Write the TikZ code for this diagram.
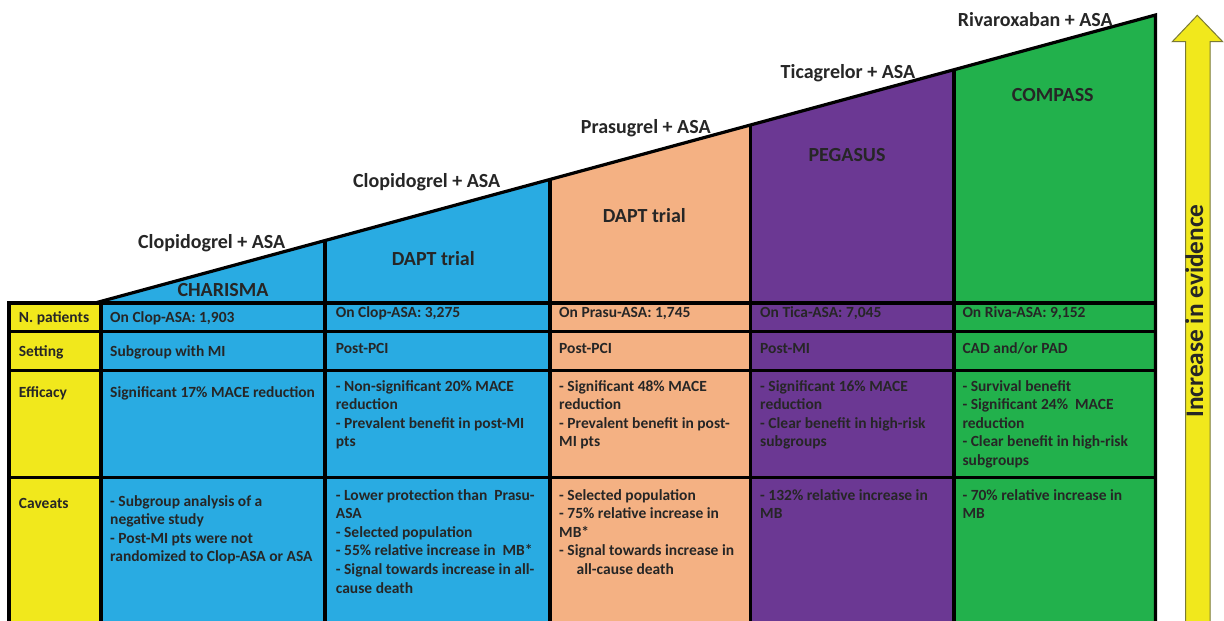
\documentclass[tikz,border=0pt]{standalone}
\usepackage{fontspec}
\setmainfont{Carlito}
\definecolor{clopblue}{HTML}{29ABE2}
\definecolor{prasupeach}{HTML}{F4B183}
\definecolor{ticapurple}{HTML}{6B3893}
\definecolor{rivagreen}{HTML}{22B14C}
\definecolor{labelyellow}{HTML}{F1E81C}
\definecolor{arrowedge}{HTML}{7A7A35}
\definecolor{inkgrey}{HTML}{262626}
\tikzset{
 cell/.style={anchor=north west,inner sep=0pt,align=left,text=inkgrey,
   font=\bfseries\fontsize{15.5}{18.6}\selectfont,execute at begin node=\strut},
 drug/.style={anchor=base,inner sep=0pt,text=inkgrey,font=\bfseries\fontsize{20}{24}\selectfont},
 trial/.style={drug},
 grid/.style={line width=3.2pt},
}
\begin{document}
\begin{tikzpicture}[x=1pt,y=-1pt,line join=miter]
 \clip (0,0) rectangle (1224,621);
 \fill[white] (0,0) rectangle (1224,621);
%% coloured columns under the rising line
 \fill[clopblue] (95,303) -- (325,239.8) -- (325,625) -- (95,625) -- cycle;
 \fill[clopblue] (325,239.8) -- (550,178.9) -- (550,625) -- (325,625) -- cycle;
 \fill[prasupeach] (550,178.9) -- (750.5,124.6) -- (750.5,625) -- (550,625) -- cycle;
 \fill[ticapurple] (750.5,124.6) -- (954,69.6) -- (954,625) -- (750.5,625) -- cycle;
 \fill[rivagreen] (954,69.6) -- (1155.5,15) -- (1155.5,625) -- (954,625) -- cycle;
 \fill[labelyellow] (9,303) rectangle (101,625);
%% grid
 \draw[grid] (9,625) -- (9,303) -- (1155.5,303);
 \draw[grid] (95,303) -- (1155.5,15) -- (1155.5,625);
 \draw[grid] (9,331.7) -- (1155.5,331.7);
 \draw[grid] (9,370.3) -- (1155.5,370.3);
 \draw[grid] (9,477.7) -- (1155.5,477.7);
 \draw[grid] (101,303) -- (101,625);
 \draw[grid] (325,239.8) -- (325,625);
 \draw[grid] (550,178.9) -- (550,625);
 \draw[grid] (750.5,124.6) -- (750.5,625);
 \draw[grid] (954,69.6) -- (954,625);
%% arrow on the right
 \filldraw[fill=labelyellow,draw=arrowedge,line width=1pt]
   (1185.7,625) -- (1185.7,41.7) -- (1172.3,41.7) -- (1197.3,15.3)
   -- (1222.7,41.7) -- (1210,41.7) -- (1210,625) -- cycle;
 \node (evidence) at (1203,311) [anchor=base,rotate=90,inner sep=0pt,text=inkgrey,
   font=\bfseries\fontsize{25.3}{30}\selectfont] {Increase in evidence};
%% drugs and trials
 \node (drug_1) at (211.7,248) [drug] {Clopidogrel + ASA};
 \node (drug_2) at (426.7,187) [drug] {Clopidogrel + ASA};
 \node (drug_3) at (645.8,133) [drug] {Prasugrel + ASA};
 \node (drug_4) at (848,78) [drug] {Ticagrelor + ASA};
 \node (drug_5) at (1035.3,26.7) [drug] {Rivaroxaban + ASA};
 \node (trial_1) at (223,296) [trial] {CHARISMA};
 \node (trial_2) at (433.3,265) [trial] {DAPT trial};
 \node (trial_3) at (644.3,222.7) [trial] {DAPT trial};
 \node (trial_4) at (847,161.7) [trial] {PEGASUS};
 \node (trial_5) at (1052.8,101.7) [trial] {COMPASS};
%% row labels
 \node (lbl_npat) at (18.7,309) [cell] {N. patients};
 \node (lbl_setting) at (18.7,343.7) [cell] {Setting};
 \node (lbl_eff) at (18.7,384) [cell] {Efficacy};
 \node (lbl_cav) at (18.7,495) [cell] {Caveats};
%% CHARISMA
 \node (npat_1) at (110,309) [cell] {On Clop-ASA: 1,903};
 \node (setting_1) at (110,343.7) [cell] {Subgroup with MI};
 \node (eff_1) at (110,384) [cell] {Significant 17\% MACE reduction};
 \node (cav_1) at (110,495) [cell] {- Subgroup analysis of a\\negative study\\- Post-MI pts were not\\randomized to Clop-ASA or ASA};
%% DAPT, clopidogrel
 \node (npat_2) at (335.7,304.5) [cell] {On Clop-ASA: 3,275};
 \node (setting_2) at (335.7,340) [cell] {Post-PCI};
 \node (eff_2) at (335.7,380) [cell] {- Non-significant 20\% MACE\\reduction\\- Prevalent benefit in post-MI\\pts};
 \node (cav_2) at (335.7,489) [cell] {- Lower protection than~~Prasu-\\ASA\\- Selected population\\- 55\% relative increase in~~MB*\\- Signal towards increase in all-\\cause death};
%% DAPT, prasugrel
 \node (npat_3) at (559,304.5) [cell] {On Prasu-ASA: 1,745};
 \node (setting_3) at (559,340) [cell] {Post-PCI};
 \node (eff_3) at (559,380) [cell] {- Significant 48\% MACE\\reduction\\- Prevalent benefit in post-\\MI pts};
 \node (cav_3) at (559,489) [cell] {- Selected population\\- 75\% relative increase in\\MB*\\- Signal towards increase in\\\hspace*{17.5pt}all-cause death};
%% PEGASUS
 \node (npat_4) at (760,304.5) [cell] {On Tica-ASA: 7,045};
 \node (setting_4) at (760,340) [cell] {Post-MI};
 \node (eff_4) at (760,380) [cell] {- Significant 16\% MACE\\reduction\\- Clear benefit in high-risk\\subgroups};
 \node (cav_4) at (760,489) [cell] {- 132\% relative increase in\\MB};
%% COMPASS
 \node (npat_5) at (962.3,304.5) [cell] {On Riva-ASA: 9,152};
 \node (setting_5) at (962.3,340) [cell] {CAD and/or PAD};
 \node (eff_5) at (962.3,380) [cell] {- Survival benefit\\- Significant 24\%~~MACE\\reduction\\- Clear benefit in high-risk\\subgroups};
 \node (cav_5) at (962.3,489) [cell] {- 70\% relative increase in\\MB};
%
\end{tikzpicture}
\end{document}
